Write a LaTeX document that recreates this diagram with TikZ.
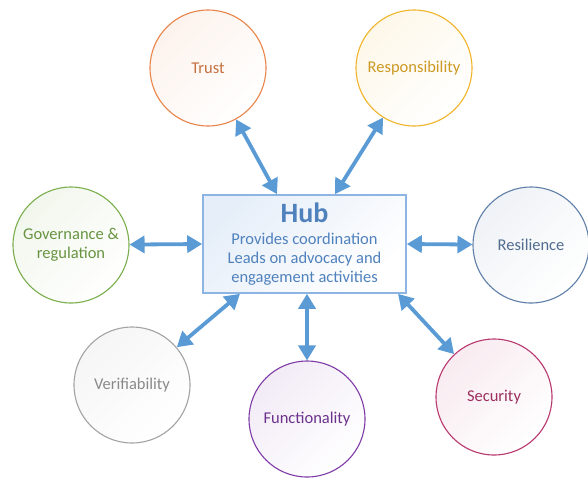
\documentclass[tikz,border=0pt]{standalone}
\usepackage{fontspec}
\setmainfont{Carlito}
\usetikzlibrary{arrows.meta,shapes}

\definecolor{hubline}{HTML}{8EB4E3}
\definecolor{hubtext}{HTML}{4F81BD}
\definecolor{linkblue}{HTML}{5B9BD5}
\definecolor{trustC}{HTML}{E8844A}
\definecolor{respC}{HTML}{F0B429}
\definecolor{govC}{HTML}{7AAE4C}
\definecolor{resC}{HTML}{5F7FA8}
\definecolor{verC}{HTML}{A3A3A3}
\definecolor{funC}{HTML}{7E3AA6}
\definecolor{secC}{HTML}{B8376E}

\begin{document}
\begin{tikzpicture}[x=1pt,y=-1pt,
  pillar/.style={circle,draw=#1,line width=1.1pt,minimum size=116pt,
    top color=#1!10,bottom color=white,shading angle=45,text=#1!85!black,
    font=\fontsize{16.5}{19.5}\selectfont,align=center,inner sep=0pt},
  hubbox/.style={rectangle,draw=hubline,line width=1.6pt,minimum width=203pt,
    minimum height=98pt,top color=hubline!22,bottom color=white,shading angle=45,
    text=hubtext,align=center,inner sep=0pt,font=\fontsize{16.5}{19}\selectfont},
  link/.style={{Triangle[length=15pt,width=17pt]}-{Triangle[length=15pt,width=17pt]},
    draw=linkblue,line width=3.8pt,shorten >=0pt,shorten <=0pt}]
  \useasboundingbox (0,0) rectangle (588,480);

  \node[hubbox] at (304.5,244) (hub) {{\fontsize{28}{30}\selectfont\bfseries Hub}\\[3pt]
    Provides coordination\\Leads on advocacy and\\engagement activities};

  \node[pillar=trustC] at (208, 68) (trust) {Trust};
  \node[pillar=respC]  at (414, 68) (resp)  {Responsibility};
  \node[pillar=govC]   at ( 71,245) (gov)   {Governance \&\\regulation};
  \node[pillar=resC]   at (531,245) (resil) {Resilience};
  \node[pillar=verC]   at (132,385) (verif) {Verifiability};
  \node[pillar=funC]   at (307,419) (func)  {Functionality};
  \node[pillar=secC]   at (494,397) (secur) {Security};

  \path ([xshift=-27.5pt]hub.north) edge[link] (trust)
        ([xshift=30.5pt]hub.north)  edge[link] (resp)
        (hub.west)                  edge[link] (gov)
        (hub.east)                  edge[link] (resil)
        ([xshift=-64.5pt]hub.south) edge[link] (verif)
        ([xshift=2.5pt]hub.south)   edge[link] (func)
        ([xshift=93.5pt]hub.south)  edge[link] (secur);
\end{tikzpicture}
\end{document}
